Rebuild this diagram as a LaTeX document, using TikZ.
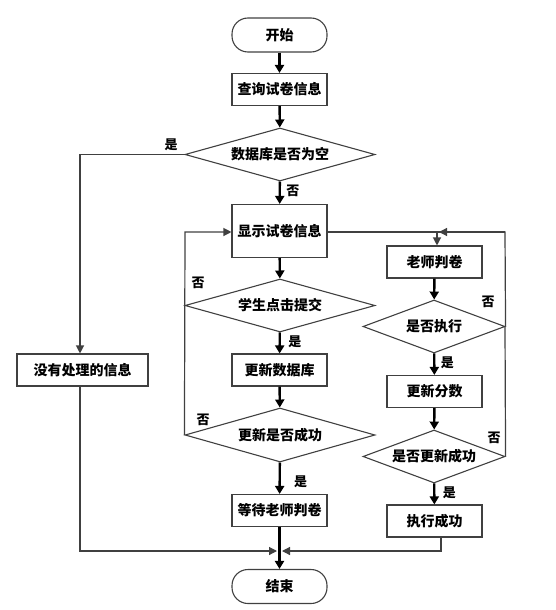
\documentclass[tikz,border=0pt]{standalone}
\usepackage{fontspec}
\newfontfamily\cjk{Noto Sans CJK SC}
\usetikzlibrary{arrows.meta,shapes.geometric,positioning,calc}
\begin{document}
\begin{tikzpicture}[x=1pt,y=-1pt,
  every node/.style={font=\cjk\bfseries\fontsize{14}{16}\selectfont, text=black},
  procbox/.style={draw=black!75, line width=1.1pt, minimum width=95pt, minimum height=32pt, inner sep=0pt},
  termbox/.style={draw=black!75, line width=1.1pt, rounded corners=16pt, minimum width=95pt, minimum height=34pt, inner sep=0pt},
  decide/.style={draw=black!75, line width=1.1pt, diamond, aspect=3.6, inner sep=0pt},
  mainarrow/.style={draw=black, line width=2.4pt, -{Triangle[length=8pt,width=9pt]}},
  thinarrow/.style={draw=black!75, line width=1.2pt, -{Triangle[length=8pt,width=8pt]}},
  thinline/.style={draw=black!75, line width=1.2pt},
  lab/.style={font=\cjk\bfseries\fontsize{13}{15}\selectfont}
]
\useasboundingbox (0,0) rectangle (556,610);

% main column
\node[termbox] (start) at (279.5,35) {开始};
\node[procbox] (query) at (279.5,89.5) {查询试卷信息};
\node[decide, minimum width=190pt, minimum height=53pt] (dbempty) at (280,154.5) {数据库是否为空};
\node[procbox, minimum height=53pt] (show) at (279.5,231) {显示试卷信息};
\node[decide, minimum width=190pt, minimum height=53pt] (submit) at (280,305.5) {学生点击提交};
\node[procbox] (updb) at (279.5,370) {更新数据库};
\node[decide, minimum width=190pt, minimum height=54pt] (upok) at (280,435) {更新是否成功};
\node[procbox] (wait) at (279.5,510.5) {等待老师判卷};
\node[termbox] (end) at (279.5,586.5) {结束};

% left
\node[procbox, minimum width=131pt] (none) at (82.5,370) {没有处理的信息};

% right column
\node[procbox] (judge) at (434.5,262) {老师判卷};
\node[decide, minimum width=142pt, minimum height=53pt] (exec) at (434,326.5) {是否执行};
\node[procbox] (score) at (434.5,391.5) {更新分数};
\node[decide, minimum width=142pt, minimum height=53pt] (scoreok) at (434,456.5) {是否更新成功};
\node[procbox] (done) at (434.5,521) {执行成功};

\coordinate (join) at (279.5,551);
\coordinate (topright) at (505,232);
\coordinate (loopin) at (437,232);

% main arrows
\draw[mainarrow] (start) -- (query);
\draw[mainarrow] (query) -- (dbempty);
\draw[mainarrow] (dbempty) -- node[lab, right=2pt, pos=0.4] {否} (show);
\draw[mainarrow] (show) -- (submit);
\draw[mainarrow] (submit) -- node[lab, right=4pt, pos=0.45] {是} (updb);
\draw[mainarrow] (updb) -- (upok);
\draw[mainarrow] (upok) -- node[lab, right=10pt, pos=0.6] {是} (wait);
\draw[mainarrow] (wait) -- (end);

\draw[mainarrow] (judge) -- (exec);
\draw[mainarrow] (exec) -- node[lab, right=2pt, pos=0.45] {是} (score);
\draw[mainarrow] (score) -- (scoreok);
\draw[mainarrow] (scoreok) -- node[lab, right=4pt, pos=0.45] {是} (done);

% left branch
\draw[thinarrow] (dbempty.west) -- (80,154.5) -- (none.north -| 80,0);
\node[lab] at (171,145) {是};
\draw[thinarrow] (none.south -| 80,0) -- (80,551) -- (277,551);

% loops back to show
\draw[thinarrow] (upok.west) -- (185,232) -- (show.west |- 0,232);
\draw[thinline] (submit.west) -- (185,305.5);
\node[lab] at (198,283) {否};
\node[lab] at (203,420) {否};

% to judge
\draw[thinline] (show.east |- 0,232) -- (topright);
\draw[thinarrow] (loopin) -- (judge.north -| loopin);
\draw[thinarrow] (exec.east) -- (topright) -- (439,232);
\draw[thinline] (scoreok.east) -- (505,326.5);
\node[lab] at (488,302) {否};
\node[lab] at (494,438) {否};

% done to end
\draw[thinarrow] (done.south -| 441,0) -- (441,551) -- (282,551);
\end{tikzpicture}
\end{document}
